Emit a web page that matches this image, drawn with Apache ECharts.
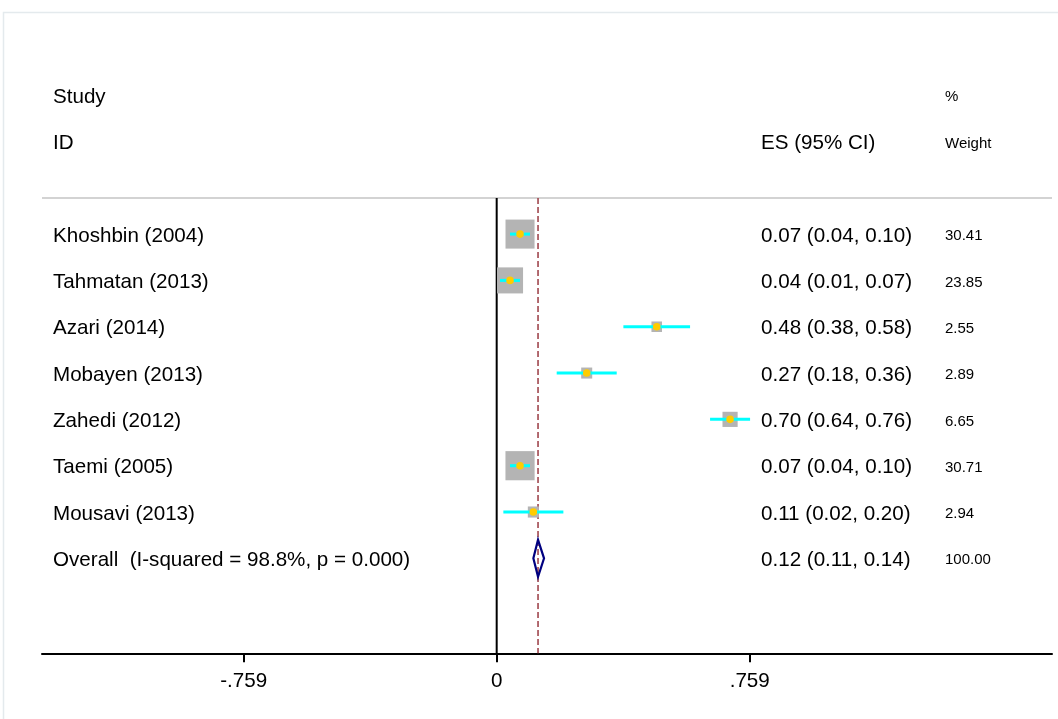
<!DOCTYPE html>
<html>
<head>
<meta charset="utf-8">
<script src="https://cdn.jsdelivr.net/npm/echarts@6/dist/echarts.min.js"></script>
<style>
html,body{margin:0;padding:0;background:#fff;}
#c{width:1058px;height:719px;}
</style>
</head>
<body>
<div id="c"></div>
<script>
// ---- data ----
var studies = ['Khoshbin (2004)', 'Tahmatan (2013)', 'Azari (2014)', 'Mobayen (2013)', 'Zahedi (2012)', 'Taemi (2005)', 'Mousavi (2013)'];
var es = [0.07, 0.04, 0.48, 0.27, 0.70, 0.07, 0.11];
var ciLow = [0.04, 0.01, 0.38, 0.18, 0.64, 0.04, 0.02];
var ciHigh = [0.10, 0.07, 0.58, 0.36, 0.76, 0.10, 0.20];
var weights = [30.41, 23.85, 2.55, 2.89, 6.65, 30.71, 2.94];
var overallLabel = 'Overall  (I-squared = 98.8%, p = 0.000)';
var overallEs = 0.124;
var overallLow = 0.11;
var overallHigh = 0.142;
var overallWeight = 100.00;
var tickValues = [-0.759, 0, 0.759];
var headerRow1 = ['Study', '%'];
var headerRow2 = ['ID', 'ES (95% CI)', 'Weight'];

// ---- layout constants ----
var XMIN = -1.3638, XMAX = 1.6656;
var YMIN = -4, YMAX = 9.05;
var LINE_ROW = -0.777;
var COL_STUDY = 53, COL_ES = 761, COL_W = 945;
var TEXT_DY = 2;
var FONT = '"Liberation Sans", Arial, sans-serif';
var BIG = 20.6, SMALL = 15;

function fmt2(v){ return v.toFixed(2); }
function esText(e,l,h){ return fmt2(e) + ' (' + fmt2(l) + ', ' + fmt2(h) + ')'; }

var rows = studies.map(function(s,i){ return [es[i], ciLow[i], ciHigh[i], i, weights[i]]; });
var overallRow = studies.length;

function txt(str, x, y, size, align){
  return {type:'text', silent:true, style:{text:str, x:x, y:y + TEXT_DY, fill:'#000', font: size + 'px ' + FONT,
    fontSize:size, fontFamily:FONT, textAlign:align||'left', align:align||'left', textVerticalAlign:'middle', verticalAlign:'middle'}};
}

var chart = echarts.init(document.getElementById('c'), null, {renderer:'canvas'});
chart.setOption({
  animation:false,
  backgroundColor:'#fff',
  graphic:[{type:'rect', silent:true, z:-10, shape:{x:3.5, y:12.5, width:1200, height:900}, style:{fill:'none', stroke:'#e4eaed', lineWidth:1.5}}],
  grid:{left:42, right:6, top:48.8, bottom:65.7, containLabel:false},
  xAxis:{type:'value', min:XMIN, max:XMAX,
    axisLine:{show:true, onZero:false, lineStyle:{color:'#000', width:2}},
    axisTick:{show:true, length:9, lineStyle:{color:'#000', width:2}, customValues:tickValues},
    axisLabel:{show:true, margin:18, color:'#000', fontSize:BIG, fontFamily:FONT, customValues:tickValues,
      formatter:function(v){ if (Math.abs(v) < 1e-9) return '0'; return (v<0?'-':'') + Math.abs(v).toFixed(3).replace(/^0/, ''); }},
    splitLine:{show:false}},
  yAxis:{type:'value', inverse:true, min:YMIN, max:YMAX, show:false, splitLine:{show:false}},
  series:[
    {type:'line', silent:true, symbol:'none', z:1, data:[[XMIN, LINE_ROW],[XMAX, LINE_ROW]], lineStyle:{color:'#c4c4c4', width:1.5}},
    {type:'line', silent:true, symbol:'none', z:2, data:[[0, LINE_ROW],[0, YMAX]], lineStyle:{color:'#000', width:2}},
    {type:'line', silent:true, symbol:'none', z:2, data:[[overallEs, LINE_ROW],[overallEs, YMAX]], lineStyle:{color:'#a0464e', width:1.6, type:[6,3]}},
    {type:'custom', silent:true, z:5, data:rows, renderItem:function(params, api){
      var e = api.value(0), l = api.value(1), h = api.value(2), r = api.value(3), w = api.value(4);
      var c = api.coord([e, r]); var cl = api.coord([l, r]); var ch = api.coord([h, r]);
      var s = 3 + 4.72*Math.sqrt(w);
      return {type:'group', children:[
        {type:'rect', shape:{x:c[0]-s/2, y:c[1]-s/2, width:s, height:s}, style:{fill:'#b4b4b4'}},
        {type:'line', shape:{x1:cl[0], y1:c[1], x2:ch[0], y2:c[1]}, style:{stroke:'#00ffff', lineWidth:3}},
        {type:'circle', shape:{cx:c[0], cy:c[1], r:3.8}, style:{fill:'#ffcc00'}}
      ]};
    }},
    {type:'custom', silent:true, z:5, data:[[overallEs, overallLow, overallHigh, overallRow]], renderItem:function(params, api){
      var e = api.value(0), l = api.value(1), h = api.value(2), r = api.value(3);
      var pL = api.coord([l, r]), pT = api.coord([e, r-0.4]), pR = api.coord([h, r]), pB = api.coord([e, r+0.4]);
      return {type:'polygon', shape:{points:[pL, pT, pR, pB]}, style:{fill:'none', stroke:'#000080', lineWidth:2.2}};
    }},
    {type:'custom', silent:true, z:6, data:[[0]], renderItem:function(params, api){
      var kids = [];
      var y1 = api.coord([0, -3])[1], y2 = api.coord([0, -2])[1];
      kids.push(txt(headerRow1[0], COL_STUDY, y1, BIG));
      kids.push(txt(headerRow1[1], COL_W, y1, SMALL));
      kids.push(txt(headerRow2[0], COL_STUDY, y2, BIG));
      kids.push(txt(headerRow2[1], COL_ES, y2, BIG));
      kids.push(txt(headerRow2[2], COL_W, y2, SMALL));
      for (var i = 0; i < studies.length; i++) {
        var y = api.coord([0, i])[1];
        kids.push(txt(studies[i], COL_STUDY, y, BIG));
        kids.push(txt(esText(es[i], ciLow[i], ciHigh[i]), COL_ES, y, BIG));
        kids.push(txt(weights[i].toFixed(2), COL_W, y, SMALL));
      }
      var yo = api.coord([0, overallRow])[1];
      kids.push(txt(overallLabel, COL_STUDY, yo, BIG));
      kids.push(txt(esText(overallEs, overallLow, overallHigh), COL_ES, yo, BIG));
      kids.push(txt(overallWeight.toFixed(2), COL_W, yo, SMALL));
      return {type:'group', children:kids};
    }}
  ]
});
</script>
</body>
</html>
